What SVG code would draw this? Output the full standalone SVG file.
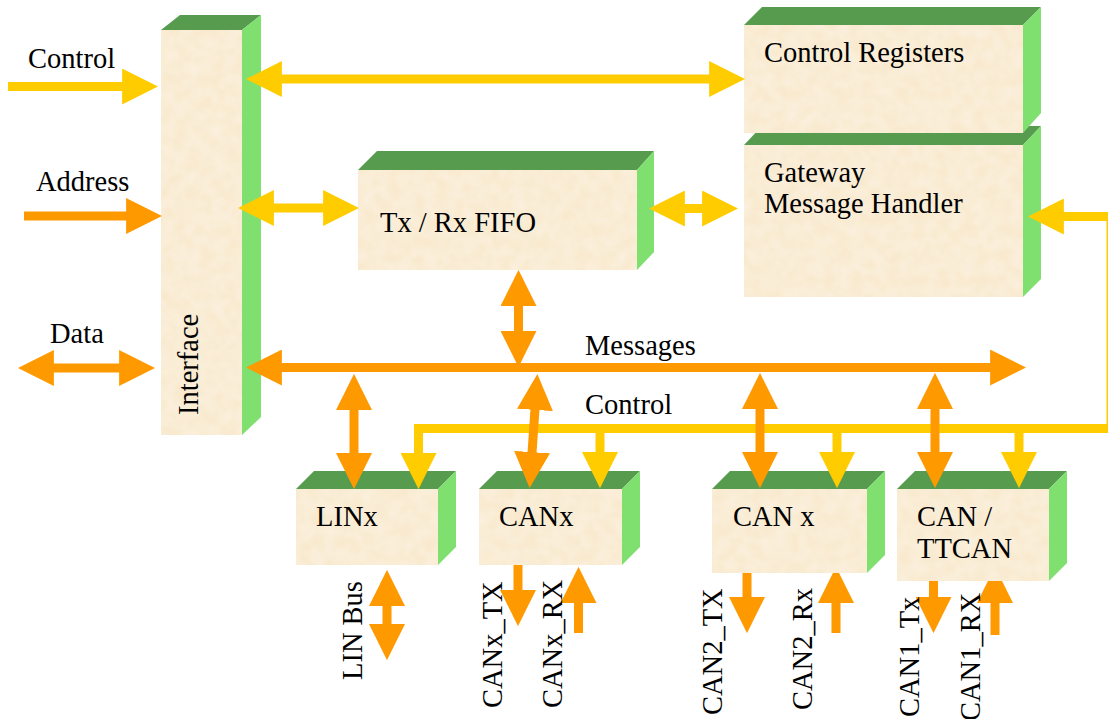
<svg xmlns="http://www.w3.org/2000/svg" width="1108" height="719" viewBox="0 0 1108 719" font-family="'Liberation Serif', 'DejaVu Serif', serif">
  <style>
    .front { fill: #F9EACF; filter: url(#paper); }
    .top { fill: #579B4F; }
    .side { fill: #7FE070; }
    .lbl { font-family: 'Liberation Serif', 'DejaVu Serif', serif; font-size: 28.5px; fill: #000; }
    .y { fill: none; stroke: #FFCC00; stroke-width: 9; stroke-linejoin: miter; }
    .o { fill: none; stroke: #FF9900; stroke-width: 9; stroke-linejoin: miter; }
    .y.end { marker-end: url(#hy); }
    .y.both { marker-start: url(#hy); marker-end: url(#hy); }
    .o.end { marker-end: url(#ho); }
    .o.both { marker-start: url(#ho); marker-end: url(#ho); }
  </style>
  <defs>
    <!-- faint parchment mottling on the block faces -->
    <filter id="paper" x="0" y="0" width="100%" height="100%">
      <feTurbulence type="fractalNoise" baseFrequency="0.08" numOctaves="2" seed="7" result="noise"/>
      <feColorMatrix in="noise" type="matrix" values="0 0 0 0 1  0 0 0 0 1  0 0 0 0 1  0.5 0 0 0 -0.14" result="spots"/>
      <feComposite in="spots" in2="SourceGraphic" operator="in" result="clipped"/>
      <feMerge><feMergeNode in="SourceGraphic"/><feMergeNode in="clipped"/></feMerge>
    </filter>
    <marker id="hy" viewBox="0 0 4 4" markerWidth="4" markerHeight="4" refX="0.1" refY="2" orient="auto-start-reverse" markerUnits="strokeWidth">
      <path d="M0,0 L4,2 L0,4 Z" fill="#FFCC00"/>
    </marker>
    <marker id="ho" viewBox="0 0 4 4" markerWidth="4" markerHeight="4" refX="0.1" refY="2" orient="auto-start-reverse" markerUnits="strokeWidth">
      <path d="M0,0 L4,2 L0,4 Z" fill="#FF9900"/>
    </marker>
    <!-- pins below the lower blocks are hidden where they run under a block -->
    <clipPath id="belowBlocks">
      <rect x="290" y="565" width="170" height="160"/>
      <rect x="470" y="565" width="175" height="160"/>
      <rect x="690" y="573" width="200" height="160"/>
      <rect x="890" y="581" width="180" height="160"/>
    </clipPath>
  </defs>

  <!-- Interface (tall block on the left) -->
  <g id="interface">
    <polygon class="top" points="161,30 180,15 261,15 242,30"/>
    <polygon class="side" points="242,30 261,15 261,417 242,435"/>
    <rect class="front" x="161" y="30" width="81" height="405"/>
    <text class="lbl" transform="translate(198,415) rotate(-90)">Interface</text>
  </g>

  <!-- Gateway Message Handler (drawn before Control Registers, which overlaps its top) -->
  <g id="gateway">
    <polygon class="top" points="744,145 762,126 1041,126 1023,145"/>
    <polygon class="side" points="1023,145 1041,126 1041,279 1023,297"/>
    <rect class="front" x="744" y="145" width="279" height="152"/>
    <text class="lbl" x="764" y="182">Gateway</text>
    <text class="lbl" x="764" y="213">Message Handler</text>
  </g>

  <g id="control-registers">
    <polygon class="top" points="744,25 762,7 1041,7 1023,25"/>
    <polygon class="side" points="1023,25 1041,7 1041,113 1023,133"/>
    <rect class="front" x="744" y="25" width="279" height="108"/>
    <text class="lbl" x="764" y="62">Control Registers</text>
  </g>

  <g id="fifo">
    <polygon class="top" points="358,170 377,151 654,151 637,170"/>
    <polygon class="side" points="637,170 654,151 654,252 637,270"/>
    <rect class="front" x="358" y="170" width="279" height="100"/>
    <text class="lbl" x="380" y="232">Tx / Rx FIFO</text>
  </g>

  <g id="linx">
    <polygon class="top" points="296,489 314,471 456,471 438,489"/>
    <polygon class="side" points="438,489 456,471 456,547 438,565"/>
    <rect class="front" x="296" y="489" width="142" height="76"/>
    <text class="lbl" x="316" y="526">LINx</text>
  </g>

  <g id="canx">
    <polygon class="top" points="479,489 497,471 640,471 622,489"/>
    <polygon class="side" points="622,489 640,471 640,547 622,565"/>
    <rect class="front" x="479" y="489" width="143" height="76"/>
    <text class="lbl" x="499" y="526">CANx</text>
  </g>

  <g id="can-x">
    <polygon class="top" points="712,489 730,471 885,471 867,489"/>
    <polygon class="side" points="867,489 885,471 885,555 867,573"/>
    <rect class="front" x="712" y="489" width="155" height="84"/>
    <text class="lbl" x="733" y="526">CAN x</text>
  </g>

  <g id="can-ttcan">
    <polygon class="top" points="897,489 915,471 1067,471 1049,489"/>
    <polygon class="side" points="1049,489 1067,471 1067,563 1049,581"/>
    <rect class="front" x="897" y="489" width="152" height="92"/>
    <text class="lbl" x="917" y="526">CAN /</text>
    <text class="lbl" x="917" y="558">TTCAN</text>
  </g>

  <!-- Connectors -->
  <g id="connectors">
    <!-- host side inputs -->
    <path class="y end" d="M8,86.5 H123"/>
    <path class="o end" d="M24,216 H127"/>
    <path class="o both" d="M53,368 H120"/>

    <!-- yellow control paths -->
    <path class="y both" d="M281,79 H710"/>
    <path class="y both" d="M273,208 H324"/>
    <path class="y both" d="M684,208.5 H703"/>
    <path class="y both" d="M1063,216.5 H1111 V428.5 H418.5 V454"/>
    <path class="y end" d="M600,428.5 V453"/>
    <path class="y end" d="M837,428.5 V453"/>
    <path class="y end" d="M1019,428.5 V453"/>

    <!-- orange message bus and taps -->
    <path class="o both" d="M281,367.5 H991"/>
    <path class="o both" d="M518.5,305 V332"/>
    <path class="o both" d="M354,409 V454"/>
    <path class="o both" d="M535,409 L532,453"/>
    <path class="o both" d="M760,408 V453"/>
    <path class="o both" d="M935,408 V453"/>

    <!-- bus pins below the controllers -->
    <g id="pins" clip-path="url(#belowBlocks)">
      <path class="o both" d="M387,605 V625"/>
      <path class="o end" d="M518,560 V591"/>
      <path class="o end" d="M578.5,633 V602"/>
      <path class="o end" d="M747,560 V598"/>
      <path class="o end" d="M836,633 V602"/>
      <path class="o end" d="M933.5,560 V598"/>
      <path class="o end" d="M995,635 V602"/>
    </g>
  </g>

  <!-- Labels -->
  <g id="labels">
    <text class="lbl" x="28" y="68">Control</text>
    <text class="lbl" x="36" y="191">Address</text>
    <text class="lbl" x="50" y="343">Data</text>
    <text class="lbl" x="585" y="355">Messages</text>
    <text class="lbl" x="585" y="414">Control</text>
    <text class="lbl" transform="translate(362,680) rotate(-90)">LIN Bus</text>
    <text class="lbl" transform="translate(502,708) rotate(-90)">CANx_TX</text>
    <text class="lbl" transform="translate(562,708) rotate(-90)">CANx_RX</text>
    <text class="lbl" transform="translate(722,715) rotate(-90)">CAN2_TX</text>
    <text class="lbl" transform="translate(812,710) rotate(-90)">CAN2_Rx</text>
    <text class="lbl" transform="translate(919,717) rotate(-90)">CAN1_Tx</text>
    <text class="lbl" transform="translate(980,721) rotate(-90)">CAN1_RX</text>
  </g>
</svg>
